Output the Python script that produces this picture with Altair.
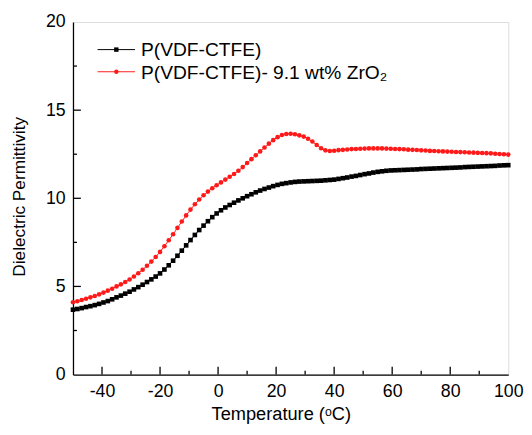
import altair as alt
import pandas as pd

# Temperature grid (deg C) of the measurement points
temperature = [-50 + 1.5 * i for i in range(101)]

# P(VDF-CTFE)
pure = [3.68, 3.72, 3.77, 3.83, 3.88, 3.94, 4.01, 4.09, 4.17, 4.27,
        4.38, 4.48, 4.59, 4.70, 4.83, 4.96, 5.10, 5.25, 5.40, 5.56,
        5.74, 5.96, 6.20, 6.46, 6.74, 7.03, 7.33, 7.63, 7.92, 8.20,
        8.45, 8.70, 8.93, 9.14, 9.32, 9.48, 9.62, 9.75, 9.88, 10.00,
        10.12, 10.23, 10.34, 10.44, 10.53, 10.61, 10.69, 10.76, 10.82, 10.86,
        10.90, 10.93, 10.95, 10.96, 10.97, 10.98, 10.99, 11.00, 11.02, 11.04,
        11.06, 11.10, 11.14, 11.18, 11.23, 11.27, 11.32, 11.37, 11.41, 11.46,
        11.50, 11.53, 11.56, 11.58, 11.59, 11.60, 11.61, 11.62, 11.63, 11.64,
        11.66, 11.67, 11.68, 11.69, 11.70, 11.71, 11.72, 11.73, 11.74, 11.75,
        11.77, 11.78, 11.79, 11.80, 11.81, 11.82, 11.83, 11.84, 11.86, 11.87,
        11.88]

# P(VDF-CTFE) - 9.1 wt% ZrO2
zro2 = [4.10, 4.16, 4.23, 4.30, 4.38, 4.46, 4.55, 4.65, 4.76, 4.87,
        5.00, 5.12, 5.25, 5.39, 5.56, 5.75, 5.95, 6.17, 6.41, 6.67,
        6.96, 7.28, 7.62, 7.96, 8.32, 8.68, 9.03, 9.36, 9.66, 9.93,
        10.17, 10.38, 10.57, 10.74, 10.90, 11.06, 11.22, 11.38, 11.56, 11.77,
        12.00, 12.22, 12.44, 12.66, 12.88, 13.10, 13.30, 13.47, 13.59, 13.65,
        13.66, 13.63, 13.57, 13.50, 13.38, 13.22, 13.02, 12.84, 12.72, 12.68,
        12.70, 12.73, 12.75, 12.77, 12.79, 12.80, 12.81, 12.82, 12.83, 12.83,
        12.83, 12.83, 12.82, 12.81, 12.80, 12.79, 12.78, 12.76, 12.75, 12.74,
        12.72, 12.71, 12.69, 12.68, 12.67, 12.66, 12.65, 12.64, 12.63, 12.62,
        12.61, 12.60, 12.59, 12.58, 12.57, 12.56, 12.55, 12.53, 12.51, 12.50,
        12.48]

series_names = ["P(VDF-CTFE)", "P(VDF-CTFE)- 9.1 wt% ZrO\u2082"]
series_colors = ["#000000", "#ff1a1a"]
series_shapes = ["square", "circle"]

x_labels = [-40, -20, 0, 20, 40, 60, 80, 100]
x_major_ticks = [-40, -20, 0, 20, 40, 60, 80]
x_minor_ticks = [-30, -10, 10, 30, 50, 70, 90]
y_labels = [0, 5, 10, 15, 20]
y_major_ticks = [5, 10, 15]
y_minor_ticks = [2.5, 7.5, 12.5, 17.5]

FONT = "Liberation Sans"
W, H = 442, 358

rows = []
for name, vals in zip(series_names, [pure, zro2]):
    for t, v in zip(temperature, vals):
        rows.append({"T": t, "eps": v, "series": name})
df = pd.DataFrame(rows)

xscale = alt.Scale(domain=[-50, 100], nice=False, zero=False)
yscale = alt.Scale(domain=[0, 20], nice=False, zero=False)
color_scale = alt.Scale(domain=series_names, range=series_colors)
shape_scale = alt.Scale(domain=series_names, range=series_shapes)

x_axis = alt.Axis(values=x_labels, ticks=False, grid=False, labelPadding=8,
                  labelExpr="'' + datum.value", labelFlush=False, labelOverlap=False,
                  labelFontSize=18, labelFont=FONT, labelColor="#000",
                  title="Temperature (\u1d52C)", titleFont=FONT, titleFontSize=18.5,
                  titleFontWeight="normal", titleColor="#000",
                  titleX=211, titleY=31, titleAlign="center", titleBaseline="top",
                  domainColor="#000", domainWidth=1.3)
y_axis = alt.Axis(values=y_labels, ticks=False, grid=False, labelPadding=8,
                  labelExpr="'' + datum.value", labelFlush=False, labelOverlap=False,
                  labelFontSize=18, labelFont=FONT, labelColor="#000",
                  title="Dielectric Permittivity", titleFont=FONT, titleFontSize=17.5,
                  titleFontWeight="normal", titleColor="#000",
                  titleX=-54, titleY=177, titleAlign="center", titleBaseline="middle",
                  titleAngle=270, domainColor="#000", domainWidth=1.3)

X = alt.X("T:Q", scale=xscale, axis=x_axis, title="Temperature (\u1d52C)")
Y = alt.Y("eps:Q", scale=yscale, axis=y_axis, title="Dielectric Permittivity")

lines = alt.Chart(df).mark_line(strokeWidth=1).encode(
    x=X, y=Y,
    color=alt.Color("series:N", scale=color_scale, legend=None),
    detail="series:N",
)
points = alt.Chart(df).mark_point(filled=True, size=22, opacity=1).encode(
    x=X, y=Y,
    color=alt.Color("series:N", scale=color_scale, legend=None),
    shape=alt.Shape("series:N", scale=shape_scale, legend=None),
)

# inward ticks
xmaj = alt.Chart(pd.DataFrame({"T": x_major_ticks})).mark_rule(color="#000", strokeWidth=1.3).encode(
    x=X, y=alt.value(H), y2=alt.value(H - 8))
xmin = alt.Chart(pd.DataFrame({"T": x_minor_ticks})).mark_rule(color="#000", strokeWidth=1.3).encode(
    x=X, y=alt.value(H), y2=alt.value(H - 4))
ymaj = alt.Chart(pd.DataFrame({"eps": y_major_ticks})).mark_rule(color="#000", strokeWidth=1.3).encode(
    y=Y, x=alt.value(0), x2=alt.value(8))
ymin = alt.Chart(pd.DataFrame({"eps": y_minor_ticks})).mark_rule(color="#000", strokeWidth=1.3).encode(
    y=Y, x=alt.value(0), x2=alt.value(4))

# legend (drawn inside plot, top-left)
legend_layers = []
legend_y = [28, 50.5]
for name, col, shp, ly in zip(series_names, series_colors, series_shapes, legend_y):
    one = pd.DataFrame({"k": [0]})
    legend_layers.append(alt.Chart(one).mark_rule(color=col, strokeWidth=1).encode(
        x=alt.value(25), x2=alt.value(63), y=alt.value(ly)))
    legend_layers.append(alt.Chart(one).mark_point(shape=shp, filled=True, size=20, color=col, opacity=1).encode(
        x=alt.value(44), y=alt.value(ly)))
    legend_layers.append(alt.Chart(one).mark_text(text=name, align="left", baseline="middle",
                                                  font=FONT, fontSize=19.5, color="#000").encode(
        x=alt.value(69), y=alt.value(ly + 1)))

chart = alt.layer(lines, points, xmaj, xmin, ymaj, ymin, *legend_layers).properties(
    width=W, height=H,
    autosize=alt.AutoSizeParams(type="none"),
    padding={"left": 66, "top": 11, "right": 16, "bottom": 50},
).configure_view(stroke="#000", strokeWidth=1.3).configure(background="white")

chart.save("out.html", embed_options={"renderer": "svg", "actions": False})
